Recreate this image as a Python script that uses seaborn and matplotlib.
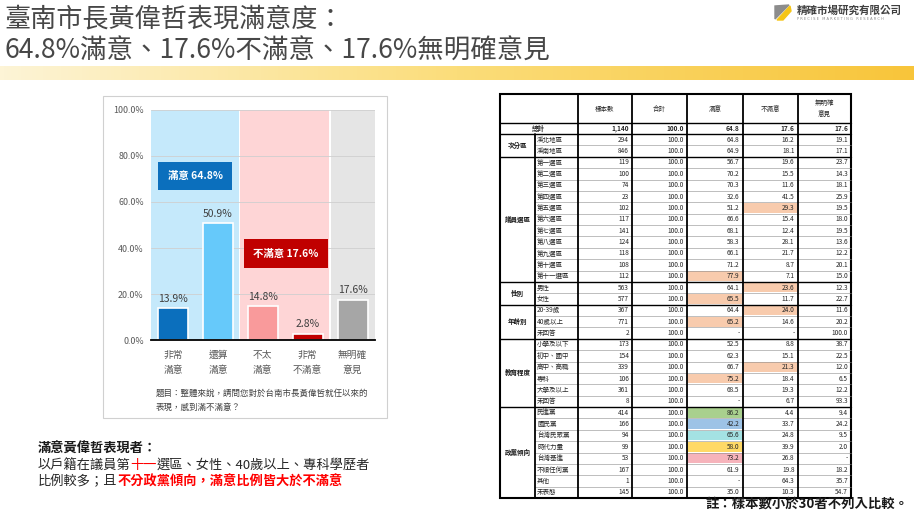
import numpy as np
import pandas as pd
import seaborn as sns
import matplotlib.pyplot as plt
from matplotlib.patches import Rectangle, Polygon
from matplotlib.colors import LinearSegmentedColormap

sns.set_theme(style='white')
plt.rcParams['font.family'] = ['Noto Sans CJK TC', 'DejaVu Sans']

# ---- bar chart data ----
answers = ['非常\n滿意', '還算\n滿意', '不太\n滿意', '非常\n不滿意', '無明確\n意見']
shares = [13.9, 50.9, 14.8, 2.8, 17.6]
bar_colors = ['#0b6fbd', '#66c9fa', '#f99a9b', '#c00000', '#a6a6a6']
satisfied_total = 64.8
unsatisfied_total = 17.6

# ---- cross table data ----
col_heads = ['樣本數', '合計', '滿意', '不滿意', '無明確\n意見']
total_row = [1140, 100.0, 64.8, 17.6, 17.6]
groups = ['次分區', '議員選區', '性別', '年齡別', '教育程度', '政黨傾向']
group_sizes = [2, 11, 2, 3, 6, 8]
row_names = ['溪北地區', '溪南地區',
             '第一選區', '第二選區', '第三選區', '第四選區', '第五選區', '第六選區',
             '第七選區', '第八選區', '第九選區', '第十選區', '第十一選區',
             '男性', '女性',
             '20-39歲', '40歲以上', '未回答',
             '小學及以下', '初中、國中', '高中、高職', '專科', '大學及以上', '未回答',
             '民進黨', '國民黨', '台灣民眾黨', '時代力量', '台灣基進', '不傾任何黨', '其他', '未表態']
n_sample = [294, 846, 119, 100, 74, 23, 102, 117, 141, 124, 118, 108, 112,
            563, 577, 367, 771, 2, 173, 154, 339, 106, 361, 8,
            414, 166, 94, 99, 53, 167, 1, 145]
pct_total = [100.0] * 32
pct_sat = [64.8, 64.9, 56.7, 70.2, 70.3, 32.6, 51.2, 66.6, 68.1, 58.3, 66.1, 71.2, 77.9,
           64.1, 65.5, 64.4, 65.2, None, 52.5, 62.3, 66.7, 75.2, 68.5, None,
           86.2, 42.2, 65.6, 58.0, 73.2, 61.9, None, 35.0]
pct_unsat = [16.2, 18.1, 19.6, 15.5, 11.6, 41.5, 29.3, 15.4, 12.4, 28.1, 21.7, 8.7, 7.1,
             23.6, 11.7, 24.0, 14.6, None, 8.8, 15.1, 21.3, 18.4, 19.3, 6.7,
             4.4, 33.7, 24.8, 39.9, 26.8, 19.8, 64.3, 10.3]
pct_none = [19.1, 17.1, 23.7, 14.3, 18.1, 25.9, 19.5, 18.0, 19.5, 13.6, 12.2, 20.1, 15.0,
            12.3, 22.7, 11.6, 20.2, 100.0, 38.7, 22.5, 12.0, 6.5, 12.2, 93.3,
            9.4, 24.2, 9.5, 2.0, None, 18.2, 35.7, 54.7]
peach = '#f8cbad'
highlights = {('第五選區', 3): peach, ('第十一選區', 2): peach, ('男性', 3): peach,
              ('女性', 2): peach, ('20-39歲', 3): peach, ('40歲以上', 2): peach,
              ('高中、高職', 3): peach, ('專科', 2): peach,
              ('民進黨', 2): '#a9d08e', ('國民黨', 2): '#9dc3e6', ('台灣民眾黨', 2): '#a4e2e3',
              ('時代力量', 2): '#ffd966', ('台灣基進', 2): '#f6b3bb'}

fig = plt.figure(figsize=(9.14, 5.15), dpi=100)
fig.patch.set_facecolor('white')

# full-figure pixel canvas for slide decorations
bg = fig.add_axes([0, 0, 1, 1])
bg.axis('off')

# yellow band
band = LinearSegmentedColormap.from_list('band', ['#fdf4d6', '#fbdd7a', '#f8c53a'])
bg.imshow(np.linspace(0, 1, 256)[None, :], cmap=band, extent=[0, 914, 80, 66], aspect='auto')

# titles
bg.text(4, 19, '臺南市長黃偉哲表現滿意度：', fontsize=18.8, color='#474747', va='center')
bg.text(4, 51, '64.8%滿意、17.6%不滿意、17.6%無明確意見', fontsize=19.1, color='#474747',
        va='center')

# logo
bg.add_patch(Polygon([(775, 6), (789, 5), (775, 19)], closed=True, color='#8c8c8c'))
bg.add_patch(Polygon([(777, 20), (790, 6), (791, 11), (783, 20)], closed=True, color='#f5c518'))
bg.text(797, 10, '精確市場研究有限公司', fontsize=7.6, fontweight='bold', color='#404040', va='center')
bg.text(797, 19.5, 'P R E C I S E   M A R K E T I N G   R E S E A R C H', fontsize=2.6,
        color='#8c8c8c', va='center', family='DejaVu Sans')

# chart panel border
bg.add_patch(Rectangle((103, 96), 284, 322, fill=False, ec='#d0d0d0', lw=0.8))
bg.text(156, 393, '題目：整體來說，請問您對於台南市長黃偉哲就任以來的', fontsize=6.1,
        color='#404040', va='center')
bg.text(156, 407, '表現，感到滿不滿意？', fontsize=6.1, color='#404040', va='center')

# ---- bar chart ----
ax = fig.add_axes([150.7 / 914, (515 - 340) / 515, 224.3 / 914, 230 / 515])
ax.axvspan(-0.5, 1.46, color='#c5e9fb', zorder=0, lw=0)
ax.axvspan(1.5, 3.47, color='#fed5d6', zorder=0, lw=0)
ax.axvspan(3.52, 4.5, color='#e5e5e5', zorder=0, lw=0)
sns.barplot(x=answers, y=shares, hue=answers, palette=bar_colors, legend=False,
            saturation=1, width=0.67, edgecolor='white', linewidth=1.2, ax=ax, zorder=2)
for cont in ax.containers:
    ax.bar_label(cont, fmt='%.1f%%', padding=3, fontsize=7.5, color='#404040')
ax.set_xlim(-0.5, 4.5)
ax.set_ylim(0, 100)
ax.set_yticks(range(0, 101, 20))
ax.set_yticklabels([f'{v:.1f}%' for v in range(0, 101, 20)], fontsize=6.4, color='#595959')
ax.tick_params(axis='x', labelsize=7, labelcolor='#595959', length=0, pad=7)
ax.tick_params(axis='y', length=0, pad=5)
for lab in ax.get_xticklabels():
    lab.set_linespacing(1.6)
ax.yaxis.grid(True, color='#cfcfcf', lw=0.6, zorder=1)
ax.set_axisbelow(True)
sns.despine(ax=ax, left=True)
ax.spines['bottom'].set_color('black')
ax.spines['bottom'].set_linewidth(1.3)
ax.set_xlabel('')
ax.set_ylabel('')

ax.text(0.49, 71.3, f'滿意 {satisfied_total:.1f}%', fontsize=7.5, fontweight='bold', color='white',
        ha='center', va='center', zorder=5,
        bbox=dict(boxstyle='square,pad=0.9', fc='#0b6fbd', ec='none'))
ax.text(2.52, 37.6, f'不滿意 {unsatisfied_total:.1f}%', fontsize=7.5, fontweight='bold', color='white',
        ha='center', va='center', zorder=5,
        bbox=dict(boxstyle='square,pad=0.9', fc='#c00000', ec='none'))

# ---- summary text (bottom left) ----
# all prefixes are full-width CJK, so each char advances exactly 1 em
note_fs = 9.5
em = note_fs * 100 / 72
x0 = 38


def segments(y, parts):
    x = x0
    for txt, color, weight in parts:
        bg.text(x, y, txt, fontsize=note_fs, color=color, fontweight=weight, va='center')
        x += len(txt) * em


segments(449, [('滿意黃偉哲表現者：', '#1a1a1a', 'bold')])
segments(465, [('以戶籍在議員第', '#262626', 'normal'), ('十一', '#ff0000', 'normal'),
               ('選區、女性、40歲以上、專科學歷者', '#262626', 'normal')])
segments(482, [('比例較多；且', '#262626', 'normal'),
               ('不分政黨傾向，滿意比例皆大於不滿意', '#ff0000', 'bold')])

# ---- table ----
xe = [500, 535, 577.5, 632, 687, 742.5, 797.5, 851]
top, head_bot, tot_bot, rh = 94, 123, 134, 11.375
fs = 4.7


def fmt(v):
    return '-' if v is None else f'{v:.1f}'


for j, h in enumerate(col_heads):
    bg.text((xe[j + 2] + xe[j + 3]) / 2, (top + head_bot) / 2, h, fontsize=fs, ha='center',
            va='center', color='#262626', linespacing=1.5)

ty = (head_bot + tot_bot) / 2
bg.text((xe[0] + xe[2]) / 2, ty, '總計', fontsize=fs, ha='center', va='center', fontweight='bold')
tot_vals = [f'{total_row[0]:,}'] + [fmt(v) for v in total_row[1:]]
for j, v in enumerate(tot_vals):
    bg.text(xe[j + 3] - 3, ty, v, fontsize=fs, ha='right', va='center', fontweight='bold')

for i, name in enumerate(row_names):
    y0 = tot_bot + i * rh
    yc = y0 + rh / 2
    vals = [str(n_sample[i]), fmt(pct_total[i]), fmt(pct_sat[i]), fmt(pct_unsat[i]), fmt(pct_none[i])]
    for j, v in enumerate(vals):
        c = highlights.get((name, j))
        if c:
            bg.add_patch(Rectangle((xe[j + 2] + 1, y0 + 0.8), xe[j + 3] - xe[j + 2] - 2, rh - 1.6,
                                   color=c, lw=0))
        bg.text(xe[j + 3] - 3, yc, v, fontsize=fs, ha='right', va='center', color='#262626')
    bg.text(xe[1] + 2, yc, name, fontsize=fs, ha='left', va='center', color='#262626')
    bg.plot([xe[1], xe[-1]], [y0, y0], color='#8c8c8c', lw=0.4)

start = 0
for g, n in zip(groups, group_sizes):
    y0 = tot_bot + start * rh
    y1 = y0 + n * rh
    bg.text((xe[0] + xe[1]) / 2, (y0 + y1) / 2, g, fontsize=fs, ha='center', va='center',
            fontweight='bold', color='#1a1a1a')
    bg.plot([xe[0], xe[-1]], [y0, y0], color='black', lw=1.0)
    start += n

bottom = tot_bot + len(row_names) * rh
bg.plot([xe[0], xe[-1]], [head_bot, head_bot], color='black', lw=1.0)
bg.plot([xe[1], xe[1]], [tot_bot, bottom], color='black', lw=1.3)
for x in xe[2:-1]:
    bg.plot([x, x], [top, bottom], color='black', lw=1.3)
bg.add_patch(Rectangle((xe[0], top), xe[-1] - xe[0], bottom - top, fill=False, ec='black', lw=1.5))

bg.text(909, 504, '註：樣本數小於30者不列入比較。', fontsize=9.6, fontweight='bold', ha='right',
        va='center', color='#1a1a1a')

bg.set_xlim(0, 914)
bg.set_ylim(515, 0)

fig.savefig('out.png', dpi=100)
